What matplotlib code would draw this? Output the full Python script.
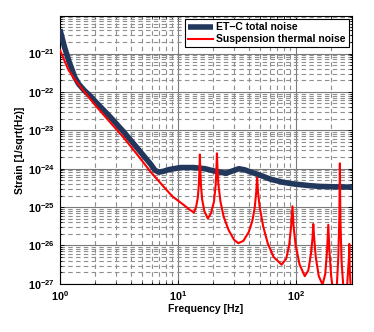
import numpy as np
import matplotlib
matplotlib.use("Agg")
import matplotlib.pyplot as plt
from matplotlib.ticker import LogLocator, NullFormatter, FixedLocator

plt.rcParams['font.family'] = ['Liberation Sans', 'DejaVu Sans']
plt.rcParams['font.weight'] = 'bold'
plt.rcParams['mathtext.fontset'] = 'custom'
plt.rcParams['mathtext.rm'] = 'Liberation Sans:bold'
plt.rcParams['mathtext.it'] = 'Liberation Sans:bold'
plt.rcParams['mathtext.bf'] = 'Liberation Sans:bold'
plt.rcParams['mathtext.default'] = 'rm'

# ET-C total noise (frequency [Hz], log10 strain)
total_f = [1.0, 1.1, 1.2, 1.27, 1.34, 1.45, 1.6, 1.8, 2.0, 2.67, 3.5, 4.5, 5.88,
           6.4, 6.9, 7.5, 8.5, 10.6, 13.7, 17, 21, 25.6, 29, 33, 37, 42, 51,
           62, 80, 98, 130, 157, 200, 300]
total_log = [-20.37, -20.85, -21.22, -21.42, -21.62, -21.8, -21.95, -22.1, -22.25,
             -22.65, -23.05, -23.45, -23.88, -24.04, -24.09, -24.07, -24.02,
             -23.97, -23.97, -24.0, -24.07, -24.12, -24.06, -24.0, -24.03, -24.09,
             -24.18, -24.28, -24.36, -24.4, -24.44, -24.46, -24.47, -24.48]

# Suspension thermal noise (frequency [Hz], log10 strain)
susp_f = [1.0, 1.18, 1.34, 1.6, 2.0, 2.5, 3.5, 4.5, 5.88, 7.5, 9.0, 11.2, 12.5,
          13.7, 14.3, 14.8, 15.1, 15.3, 15.4, 15.5, 15.7, 16.1, 16.8, 18.0,
          19.2, 20.3, 21.0, 21.3, 21.5, 21.7, 22.1, 23.0, 24.5, 27.0, 30.0,
          32.6, 36.0, 40.0, 43.0, 45.0, 46.3, 47.1, 47.9, 49.5, 53.0, 58.0,
          65.0, 76.0, 83.0, 88.0, 91.5, 93.9, 96.0, 100.0, 108.0, 119.5, 128.0,
          135.0, 139.0, 141.0, 143.5, 148.0, 157.0, 169.0, 178.0, 185.0, 189.0,
          193.0, 200.0, 210.0, 222.0, 230.0, 234.5, 237.0, 239.5, 245.0, 255.0,
          270.0, 279.0, 283.0, 285.0, 287.5, 295.0, 300.0]
susp_log = [-20.9, -21.42, -21.68, -21.98, -22.35, -22.69, -23.2, -23.62, -24.08,
            -24.45, -24.72, -24.94, -25.06,
            -25.14, -25.0, -24.75, -24.4, -23.95, -23.63, -23.95, -24.4, -24.8,
            -25.1, -25.3, -25.15, -24.85, -24.4, -23.95, -23.6, -23.95, -24.4,
            -24.85, -25.25, -25.6, -25.85, -25.94, -25.88, -25.65, -25.35, -25.0,
            -24.6, -24.23, -24.6, -25.0, -25.5, -25.95, -26.3, -26.5, -26.35,
            -26.0, -25.5, -24.98, -25.5, -26.0, -26.5, -26.8, -26.65, -26.2,
            -25.8, -25.44, -25.8, -26.3, -26.8, -27.02, -26.75, -26.1, -25.46,
            -26.1, -26.8, -27.3, -27.2, -26.3, -25.3, -23.86, -25.3, -26.4,
            -27.2, -27.3, -26.6, -26.3, -25.96, -26.6, -27.3, -27.4]

labels = ['ET\u2212C total noise', 'Suspension thermal noise']

fig = plt.figure(figsize=(3.74, 3.32), dpi=100)
ax = fig.add_axes([0.160, 0.145, 0.781, 0.807])

ax.loglog(total_f, 10.0 ** np.array(total_log), color='#22375c', lw=4.0,
          label=labels[0], solid_capstyle='butt', zorder=3)
ax.loglog(susp_f, 10.0 ** np.array(susp_log), color='#ff0000', lw=1.5,
          label=labels[1], zorder=4)

ax.set_xlim(1, 300)
ax.set_ylim(1e-27, 10 ** -20.02)

ax.xaxis.set_major_locator(FixedLocator([1, 10, 100]))
ax.yaxis.set_major_locator(FixedLocator([10.0 ** k for k in range(-27, -20)]))
ax.xaxis.set_minor_locator(LogLocator(base=10, subs=np.arange(2, 10), numticks=20))
ax.yaxis.set_minor_locator(LogLocator(base=10, subs=np.arange(2, 10), numticks=30))
ax.xaxis.set_minor_formatter(NullFormatter())
ax.yaxis.set_minor_formatter(NullFormatter())

ax.grid(True, which='major', color='#7a7a7a', lw=0.8, ls='-')
ax.grid(True, which='minor', color='#8f8f8f', lw=0.8, ls=(0, (4, 3)))
ax.set_axisbelow(True)

ax.tick_params(which='both', direction='in', top=True, right=True,
               labelsize=7.8, width=0.6, colors='black')
ax.tick_params(which='major', length=3)
ax.tick_params(which='minor', length=1.5)
for s in ax.spines.values():
    s.set_linewidth(0.8)

ax.set_xlabel('Frequency [Hz]', fontsize=7.5, fontweight='bold', labelpad=1)
ax.set_ylabel('Strain [1/sqrt(Hz)]', fontsize=7.5, fontweight='bold', labelpad=2)

leg = ax.legend(loc='upper right', fontsize=7.5, frameon=True, fancybox=False,
                edgecolor='black', framealpha=1, borderaxespad=0.3,
                handlelength=2.4, handletextpad=0.3, borderpad=0.3,
                labelspacing=0.2)
leg.get_frame().set_linewidth(0.8)
for t in leg.get_texts():
    t.set_fontweight('bold')

fig.savefig('out.png', dpi=100)
